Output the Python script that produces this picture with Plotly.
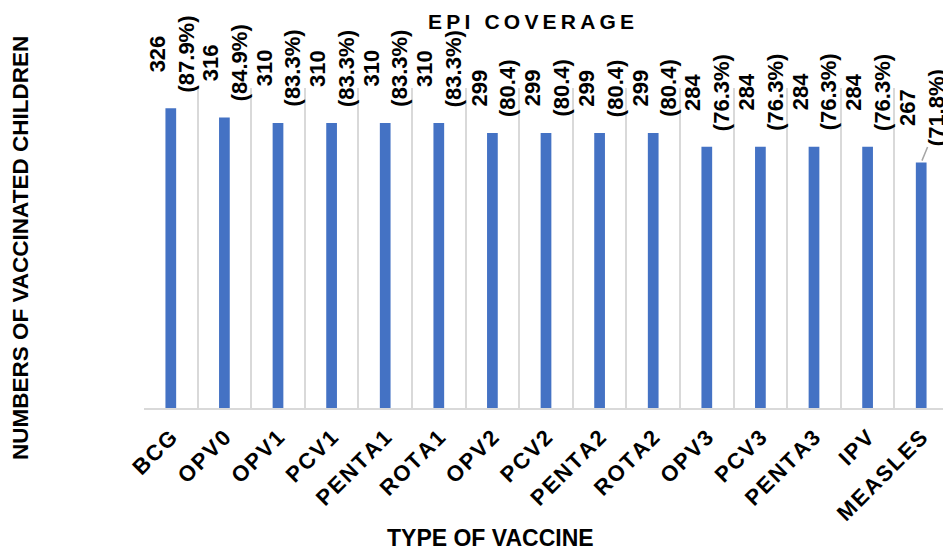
import plotly.graph_objects as go

vaccines = ["BCG", "OPV0", "OPV1", "PCV1", "PENTA1", "ROTA1", "OPV2", "PCV2",
            "PENTA2", "ROTA2", "OPV3", "PCV3", "PENTA3", "IPV", "MEASLES"]
counts = [326, 316, 310, 310, 310, 310, 299, 299, 299, 299, 284, 284, 284, 284, 267]
percent_labels = ["(87.9%)", "(84.9%)", "(83.3%)", "(83.3%)", "(83.3%)", "(83.3%)",
                  "(80.4)", "(80.4)", "(80.4)", "(80.4)",
                  "(76.3%)", "(76.3%)", "(76.3%)", "(76.3%)", "(71.8%)"]

FONT = "Liberation Sans, Arial, sans-serif"
THIN = "\u2009"
HAIR = "\u200a"


def spaced(s, sep=THIN):
    return sep.join(list(s))


fig = go.Figure()
fig.add_trace(go.Bar(
    x=vaccines, y=counts, width=0.2,
    marker=dict(color="#4472C4", line=dict(width=0)),
    hoverinfo="x+y",
))

annotations = []
for i, (v, c, p) in enumerate(zip(vaccines, counts, percent_labels)):
    annotations.append(dict(
        x=v, y=c, xref="x", yref="y",
        text=f"<b>{c}</b><br><b>{p}</b>",
        textangle=-90, showarrow=False, align="center",
        xanchor="center", yanchor="bottom", yshift=14, xshift=1,
        font=dict(family=FONT, size=22, color="#000000"),
    ))

# leader line for the last label
annotations.append(dict(
    x=vaccines[-1], y=counts[-1], xref="x", yref="y", text="",
    showarrow=True, arrowhead=0, arrowwidth=1.5, arrowcolor="#a6a6a6",
    ax=7, ay=-17, standoff=2,
))

annotations.append(dict(
    text="<b>" + spaced("EPI") + THIN + " " + THIN + spaced("COVERAGE") + "</b>",
    xref="paper", yref="paper", x=(531 - 144) / 804, y=1 + (88 - 22) / 320,
    xanchor="center", yanchor="middle", showarrow=False,
    font=dict(family=FONT, size=21, color="#000000"),
))
annotations.append(dict(
    text="<b>NUMBERS OF VACCINATED CHILDREN</b>",
    xref="paper", yref="paper", x=(20 - 144) / 804, y=0.5,
    xanchor="center", yanchor="middle", textangle=-90, showarrow=False,
    font=dict(family=FONT, size=22.5, color="#000000"),
))
annotations.append(dict(
    text="<b>TYPE OF VACCINE</b>",
    xref="paper", yref="paper", x=(490 - 144) / 804, y=(408 - 538) / 320,
    xanchor="center", yanchor="middle", showarrow=False,
    font=dict(family=FONT, size=23, color="#000000"),
))

# the page body has an 8px default margin, so the figure is sized to fill the rest
fig.update_layout(
    width=943, height=542,
    margin=dict(l=136, r=3, t=80, b=142),
    paper_bgcolor="white", plot_bgcolor="white",
    showlegend=False,
    annotations=annotations,
    bargap=0.8,
)

fig.update_xaxes(
    type="category",
    tickson="boundaries",
    showgrid=True, gridcolor="#d9d9d9", gridwidth=1.5,
    showline=True, linecolor="#d9d9d9", linewidth=2,
    ticks="", tickangle=-45,
    tickvals=vaccines,
    ticktext=["<b>" + spaced(v, HAIR) + "</b>" for v in vaccines],
    tickfont=dict(family=FONT, size=22, color="#000000"),
    ticklabelstandoff=6,
    range=[-0.5, len(vaccines) - 0.5],
    automargin=False,
)
fig.update_yaxes(
    range=[0, 348], showgrid=False, zeroline=False,
    showticklabels=False, showline=False, ticks="",
    automargin=False,
)

fig.write_html("out.html")
